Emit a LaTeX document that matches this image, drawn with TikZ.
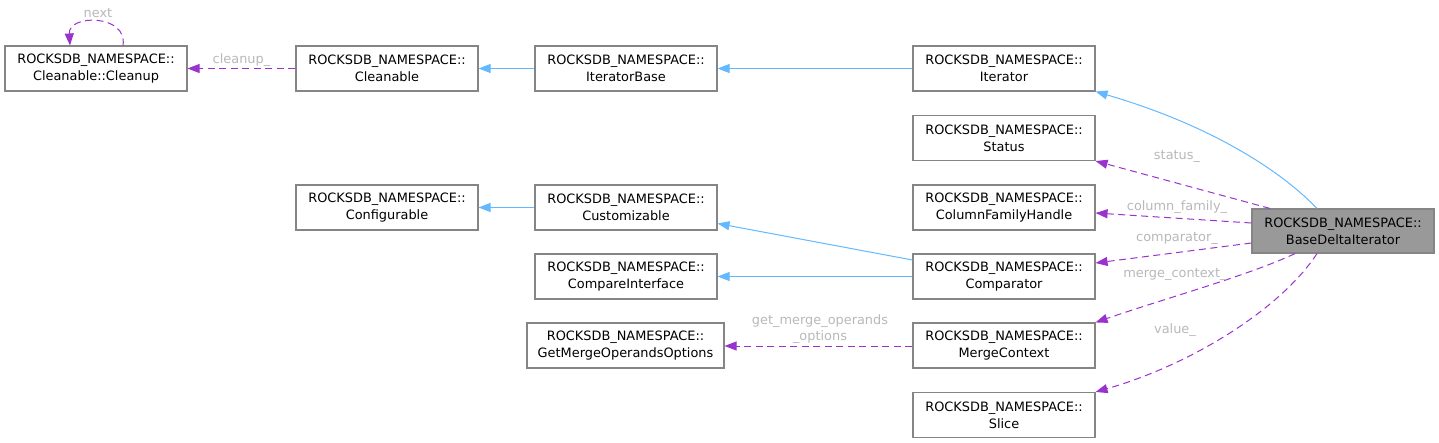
\documentclass[tikz,border=0pt]{standalone}
\usepackage{fontspec}
\setmainfont{DejaVu Sans}
\usetikzlibrary{arrows.meta,calc}
\definecolor{boxline}{HTML}{858585}
\definecolor{inh}{HTML}{63B8FF}
\definecolor{usage}{HTML}{9A32CD}
\definecolor{lbl}{HTML}{B8B8B8}
\definecolor{hl}{HTML}{999999}
\begin{document}
\begin{tikzpicture}[x=1pt,y=-1pt,
  cls/.style={draw=boxline, line width=1.1pt, fill=white, minimum width=182pt, minimum height=45pt, align=center, inner sep=0pt, font=\fontsize{12.9}{17}\selectfont},
  inherit/.style={draw=inh, line width=1pt, -{Triangle[length=12pt,width=9pt]}},
  member/.style={draw=usage, color=usage, line width=1pt, dash pattern=on 7pt off 4.5pt, -{Triangle[length=12pt,width=9pt]}},
  elabel/.style={text=lbl, font=\fontsize{12.9}{16}\selectfont, inner sep=0pt, align=center}
]
\useasboundingbox (0,0) rectangle (1439,443);

% nodes
\node[cls] (cleanup) at (96,68.5) {ROCKSDB\_NAMESPACE::\\Cleanable::Cleanup};
\node[cls] (cleanable) at (387,68.5) {ROCKSDB\_NAMESPACE::\\Cleanable};
\node[cls] (iterbase) at (626,68.5) {ROCKSDB\_NAMESPACE::\\IteratorBase};
\node[cls] (iterator) at (1004,68.5) {ROCKSDB\_NAMESPACE::\\Iterator};
\node[cls] (status) at (1004,138) {ROCKSDB\_NAMESPACE::\\Status};
\node[cls] (cfh) at (1004,207.5) {ROCKSDB\_NAMESPACE::\\ColumnFamilyHandle};
\node[cls] (configurable) at (387,207.5) {ROCKSDB\_NAMESPACE::\\Configurable};
\node[cls] (customizable) at (626,207.5) {ROCKSDB\_NAMESPACE::\\Customizable};
\node[cls] (compareif) at (626,276.5) {ROCKSDB\_NAMESPACE::\\CompareInterface};
\node[cls] (comparator) at (1004,276.5) {ROCKSDB\_NAMESPACE::\\Comparator};
\node[cls, minimum width=197pt] (gmoo) at (625.5,345.5) {ROCKSDB\_NAMESPACE::\\GetMergeOperandsOptions};
\node[cls] (mergectx) at (1004,345.5) {ROCKSDB\_NAMESPACE::\\MergeContext};
\node[cls] (slice) at (1004,415) {ROCKSDB\_NAMESPACE::\\Slice};
\node[cls, fill=hl, minimum height=44pt] (bdi) at (1343,231) {ROCKSDB\_NAMESPACE::\\BaseDeltaIterator};

% inheritance edges
\draw[inherit] (iterbase.west) -- (cleanable.east);
\draw[inherit] (iterator.west) -- (iterbase.east);
\draw[inherit] (customizable.west) -- (configurable.east);
\draw[inherit] ([yshift=16.5pt]comparator.west) -- ([yshift=-16pt]customizable.east);
\draw[inherit] (comparator.west) -- (compareif.east);
\draw[inherit] ([xshift=-26pt]bdi.north) .. controls (1280,170) and (1210,125) .. (iterator.south east);

% member edges
\draw[member] (cleanable.west) -- node[elabel, pos=0.5, yshift=8pt] {cleanup\_} (cleanup.east);
\draw[member] ([xshift=27pt]cleanup.north) .. controls (128,14) and (68,14) .. ([xshift=-26pt]cleanup.north);
\node[elabel] (nextlbl) at (98,13) {next};
\draw[member] ([yshift=-0.5pt]mergectx.west) -- ([yshift=-0.5pt]gmoo.east);
\node[elabel] (gmoolbl) at (820,329) {get\_merge\_operands\\\_options};

\draw[member] ([xshift=-73pt]bdi.north) -- (status.south east);
\node[elabel] (statuslbl) at (1177,156) {status\_};
\draw[member] ([yshift=8pt]bdi.west) -- ([yshift=-5.5pt]cfh.east);
\node[elabel] (cfhlbl) at (1177,207) {column\_family\_};
\draw[member] ([yshift=-12pt]bdi.west) -- ([yshift=13.5pt]comparator.east);
\node[elabel] (cmplbl) at (1177,238) {comparator\_};
\draw[member] ([xshift=-48pt]bdi.south) .. controls (1250,275) and (1160,300) .. (mergectx.north east);
\node[elabel] (mclbl) at (1175,274) {merge\_context\_};
\draw[member] ([xshift=-26pt]bdi.south) .. controls (1280,310) and (1190,365) .. (slice.north east);
\node[elabel] (vallbl) at (1175,330) {value\_};
\end{tikzpicture}
\end{document}
